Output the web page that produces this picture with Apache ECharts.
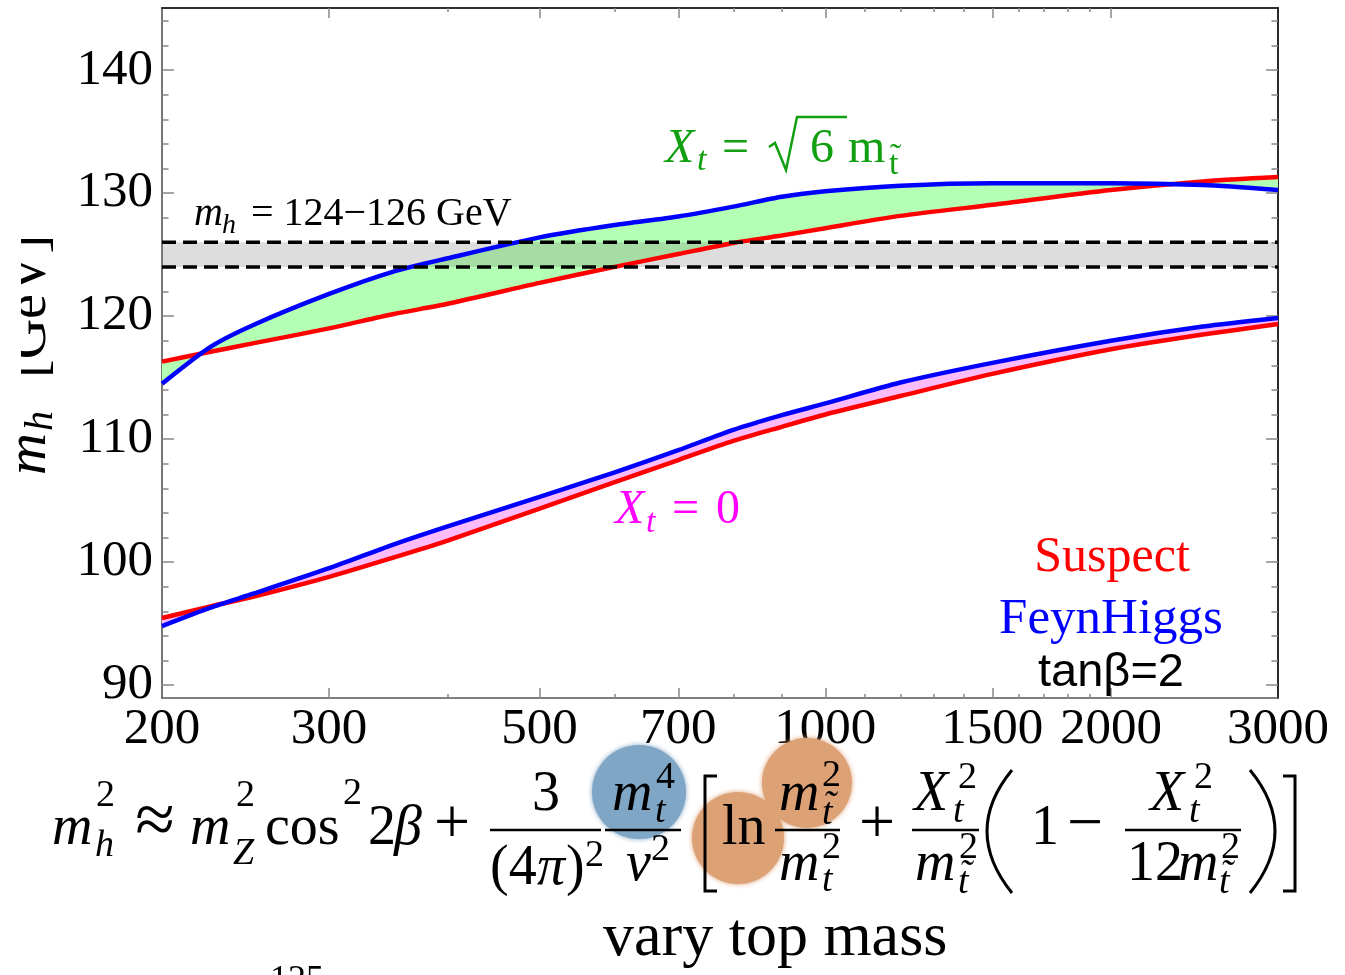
<!DOCTYPE html>
<html>
<head>
<meta charset="utf-8">
<script src="https://cdn.jsdelivr.net/npm/echarts@6/dist/echarts.min.js"></script>
<style>
  html, body { margin: 0; padding: 0; background: #fff; }
  #chart { width: 1345px; height: 975px; }
</style>
</head>
<body>
<div id="chart"></div>
<script>
// stop mass values (GeV) where the curves were read
var masses = [200, 225, 250, 300, 350, 400, 500, 600, 700, 800, 900, 1000, 1200, 1500, 2000, 2500, 3000];
// Xt = sqrt(6) m_stop
var suspectMax = [116.3, 117.1, 117.8, 119.0, 120.15, 121.0, 122.7, 124.0, 125.05, 125.95, 126.55, 127.15, 128.15, 129.05, 130.25, 130.95, 131.3];
var feynMax    = [114.5, 117.5, 119.3, 121.8, 123.6, 124.7, 126.4, 127.4, 128.1, 128.9, 129.7, 130.15, 130.6, 130.8, 130.8, 130.65, 130.25];
// Xt = 0
var suspectZero = [95.45, 96.4, 97.2, 98.8, 100.35, 101.75, 104.35, 106.5, 108.3, 109.85, 111.0, 112.0, 113.5, 115.3, 117.3, 118.5, 119.35];
var feynZero    = [94.8, 96.3, 97.45, 99.5, 101.4, 102.9, 105.3, 107.3, 109.1, 110.75, 111.95, 112.9, 114.6, 116.2, 118.0, 119.15, 119.85];
// measured higgs mass window
var massBand = [124, 126];

var massRange = [200, 3000];
var mhRange = [88.95, 145.05];
var xLabels = [200, 300, 500, 700, 1000, 1500, 2000, 3000];
var xMajorTicks = [300, 500, 700, 1000, 1500, 2000];
var xMinorTicks = [400, 600, 800, 900, 1100, 1200, 1300, 1400, 1600, 1700, 1800, 1900];
var yLabels = [90, 100, 110, 120, 130, 140];
var yMinorTicks = [92, 94, 96, 98, 102, 104, 106, 108, 112, 114, 116, 118, 122, 124, 126, 128, 132, 134, 136, 138, 142, 144];

var SERIF = '"Liberation Serif", "DejaVu Serif", serif';
var SANS = '"Liberation Sans", "DejaVu Sans", sans-serif';

var chart = echarts.init(document.getElementById('chart'));

function pairs(ys) {
    return masses.map(function (m, i) { return [m, ys[i]]; });
}

// filled region between two curves
function fillBetween(a, b, color) {
    return {
        type: 'custom', z: 1, silent: true,
        data: [[1000, 120]],
        renderItem: function (params, api) {
            var pts = [];
            for (var i = 0; i < masses.length; i++) pts.push(api.coord([masses[i], a[i]]));
            for (var j = masses.length - 1; j >= 0; j--) pts.push(api.coord([masses[j], b[j]]));
            return { type: 'polygon', shape: { points: pts }, style: { fill: color } };
        }
    };
}

function curve(ys, color) {
    return {
        type: 'line', z: 3, silent: true, symbol: 'none', smooth: 0.25,
        data: pairs(ys),
        lineStyle: { color: color, width: 4.5 },
        itemStyle: { color: color }
    };
}

function dashed(v) {
    return {
        type: 'line', z: 4, silent: true, symbol: 'none',
        data: [[massRange[0], v], [massRange[1], v]],
        lineStyle: { color: '#000', width: 3.5, type: [14, 7] }
    };
}

function xAx(pos, ticks, len, labels) {
    return {
        type: 'log', logBase: 10, min: massRange[0], max: massRange[1], position: pos,
        axisLine: { show: !!labels || pos === 'top', onZero: false, lineStyle: { color: pos === 'top' ? '#222' : '#555', width: 1.6 } },
        axisTick: { show: true, inside: true, length: len, customValues: ticks, lineStyle: { color: '#888', width: 1.5 } },
        axisLabel: labels ? {
            show: true, customValues: labels, margin: 6, color: '#000',
            fontSize: 51, fontFamily: SERIF, showMinLabel: true, showMaxLabel: true,
            formatter: function (v) { return String(Math.round(v)); }
        } : { show: false },
        splitLine: { show: false }
    };
}

function yAx(pos, ticks, len, labels) {
    return {
        type: 'value', min: mhRange[0], max: mhRange[1], position: pos,
        axisLine: { show: !!labels || pos === 'right', onZero: false, lineStyle: { color: pos === 'right' ? '#222' : '#555', width: 1.6 } },
        axisTick: { show: true, inside: true, length: len, customValues: ticks, lineStyle: { color: '#888', width: 1.5 } },
        axisLabel: labels ? {
            show: true, customValues: labels, margin: 9, color: '#000',
            fontSize: 51, fontFamily: SERIF, padding: [0, 0, 6, 0],
            formatter: function (v) { return String(Math.round(v)); }
        } : { show: false },
        splitLine: { show: false }
    };
}

// text placed by its baseline
function txt(x, base, s, size, opt) {
    opt = opt || {};
    return {
        type: 'text', x: x, y: base - 0.305 * size, z: 50, silent: true,
        style: {
            text: s, fill: opt.color || '#000',
            font: (opt.italic ? 'italic ' : '') + size + 'px ' + (opt.family || SERIF),
            textAlign: opt.align || 'left', textVerticalAlign: 'middle'
        }
    };
}
// text rotated to read upwards, baseline at column bx
function vtxt(bx, y, s, size, italic) {
    return {
        type: 'text', x: bx - 0.305 * size, y: y, rotation: Math.PI / 2, z: 50, silent: true,
        style: {
            text: s, fill: '#000', font: (italic ? 'italic ' : '') + size + 'px ' + SERIF,
            textAlign: 'left', textVerticalAlign: 'middle'
        }
    };
}
function tilt(x, base, size, italic, color) {
    return [
        txt(x, base, 't', size, { italic: italic, color: color }),
        txt(x + 1, base - 0.2 * size, '\u02DC', size, { italic: italic, color: color })
    ];
}
function bar(x1, x2) {
    return { type: 'line', z: 50, silent: true, shape: { x1: x1, y1: 830, x2: x2, y2: 830 }, style: { stroke: '#000', lineWidth: 2.5 } };
}
function bracket(pts) {
    return { type: 'polyline', z: 50, silent: true, shape: { points: pts }, style: { stroke: '#000', lineWidth: 3, fill: null } };
}
function paren(x, cx) {
    return { type: 'bezierCurve', z: 50, silent: true, shape: { x1: x, y1: 770, x2: x, y2: 893, cpx1: cx, cpy1: 831 }, style: { stroke: '#000', lineWidth: 3, fill: null } };
}
function blob(cx, cy, r, color) {
    return { type: 'circle', z: 10, silent: true, shape: { cx: cx, cy: cy, r: r }, style: { fill: color, shadowBlur: 5, shadowColor: color } };
}

var F = 56, S = 38;
var it = { italic: true };
var GREEN = '#12a012';

var formula = [
    blob(639, 792, 47, '#80a6c5'),
    blob(738, 838, 46, '#dda176'),
    blob(807, 783, 45, '#dda176'),

    txt(52, 846, 'm', F, it), txt(96, 808, '2', S), txt(95, 858, 'h', S, it),
    txt(155, 846, '\u2248', 72, { align: 'center' }),
    txt(190, 846, 'm', F, it), txt(236, 808, '2', S), txt(233, 866, 'Z', S, it),
    txt(265, 846, 'cos', F), txt(343, 806, '2', S),
    txt(368, 846, '2', F), txt(394, 846, '\u03B2', F, it),
    txt(452, 846, '+', 64, { align: 'center' }),

    bar(490, 601),
    txt(546, 812, '3', F, { align: 'center' }),
    txt(490, 886, '(4', F), txt(537, 886, '\u03C0', F, it), txt(566, 886, ')', F), txt(585, 868, '2', S),

    bar(605, 681),
    txt(612, 812, 'm', F, it), txt(656, 790, '4', S), txt(655, 824, 't', S, it),
    txt(626, 882, 'v', F, it), txt(651, 862, '2', S),

    bracket([[717, 776], [705, 776], [705, 891], [717, 891]]),
    txt(722, 846, 'ln', F),
    bar(775, 840),
    txt(779, 812, 'm', F, it), txt(822, 788, '2', S)
].concat(tilt(822, 826, S, true), [
    txt(779, 882, 'm', F, it), txt(822, 860, '2', S), txt(822, 893, 't', S, it),
    txt(877, 846, '+', 64, { align: 'center' }),
    bar(912, 979),
    txt(914, 812, 'X', F, it), txt(958, 790, '2', S), txt(953, 824, 't', S, it),
    txt(915, 882, 'm', F, it), txt(959, 860, '2', S)
], tilt(958, 895, S, true), [
    paren(1012, 962),
    txt(1031, 846, '1', F),
    txt(1085, 846, '\u2212', 64, { align: 'center' }),
    bar(1125, 1241),
    txt(1150, 812, 'X', F, it), txt(1194, 790, '2', S), txt(1189, 824, 't', S, it),
    txt(1127, 882, '12', F), txt(1178, 882, 'm', F, it), txt(1221, 860, '2', S)
], tilt(1219, 895, S, true), [
    paren(1250, 1300),
    bracket([[1283, 776], [1295, 776], [1295, 891], [1283, 891]]),

    txt(603, 958, 'vary top mass', 62),
    txt(270, 992, '125', 36)
]);

var labels = [
    // y axis title, partly cut at the left edge
    vtxt(47, 475, 'm', 58, true),
    vtxt(54, 431, 'h', 40, true),
    vtxt(47, 378, '[GeV]', 56, false),
    { type: 'rect', z: 100, silent: true, shape: { x: 0, y: 220, width: 21, height: 175 }, style: { fill: '#fff' } },

    txt(194, 227, 'm', 40, it), txt(222, 234, 'h', 28, it), txt(251, 227, '= 124\u2212126 GeV', 40),

    txt(665, 164, 'X', 48, { italic: true, color: GREEN }),
    txt(697, 171, 't', 34, { italic: true, color: GREEN }),
    txt(722, 164, '=', 48, { color: GREEN }),
    { type: 'polyline', z: 50, silent: true, shape: { points: [[769, 147], [775, 143], [786, 170], [797, 117], [847, 117]] }, style: { stroke: GREEN, lineWidth: 2.5, fill: null } },
    txt(810, 164, '6', 48, { color: GREEN }),
    txt(848, 164, 'm', 48, { color: GREEN })
].concat(tilt(889, 175, 34, false, GREEN), [
    txt(615, 525, 'X', 48, { italic: true, color: '#ff00ff' }),
    txt(646, 533, 't', 34, { italic: true, color: '#ff00ff' }),
    txt(672, 525, '=', 48, { color: '#ff00ff' }),
    txt(716, 525, '0', 48, { color: '#ff00ff' }),

    txt(1112, 573, 'Suspect', 50, { align: 'center', color: '#ff0000' }),
    txt(1111, 635, 'FeynHiggs', 51, { align: 'center', color: '#0000ff' }),
    txt(1111, 687, 'tan\u03B2=2', 47, { align: 'center', family: SANS })
]);

var option = {
    animation: false,
    backgroundColor: '#fff',
    grid: { left: 162, top: 8, width: 1116, height: 690, containLabel: false, outerBoundsMode: 'none' },
    xAxis: [
        xAx('bottom', xMajorTicks, 10, xLabels),
        xAx('bottom', xMinorTicks, 4, null),
        xAx('top', xMajorTicks, 10, null),
        xAx('top', xMinorTicks, 4, null)
    ],
    yAxis: [
        yAx('left', yLabels, 12, yLabels),
        yAx('left', yMinorTicks, 6.5, null),
        yAx('right', yLabels, 12, null),
        yAx('right', yMinorTicks, 6.5, null)
    ],
    series: [
        fillBetween(suspectMax, feynMax, '#b3ffb3'),
        fillBetween(suspectZero, feynZero, '#fcbcfa'),
        {
            type: 'custom', z: 2, silent: true,
            data: [[1000, 125]],
            renderItem: function (params, api) {
                var a = api.coord([massRange[0], massBand[1]]);
                var b = api.coord([massRange[1], massBand[0]]);
                return { type: 'rect', shape: { x: a[0], y: a[1], width: b[0] - a[0], height: b[1] - a[1] }, style: { fill: 'rgba(128,128,128,0.27)' } };
            }
        },
        curve(suspectMax, '#ff0000'),
        curve(feynMax, '#0000ff'),
        curve(suspectZero, '#ff0000'),
        curve(feynZero, '#0000ff'),
        dashed(massBand[0]),
        dashed(massBand[1])
    ],
    graphic: { elements: labels.concat(formula) }
};
chart.setOption(option);
</script>
</body>
</html>
